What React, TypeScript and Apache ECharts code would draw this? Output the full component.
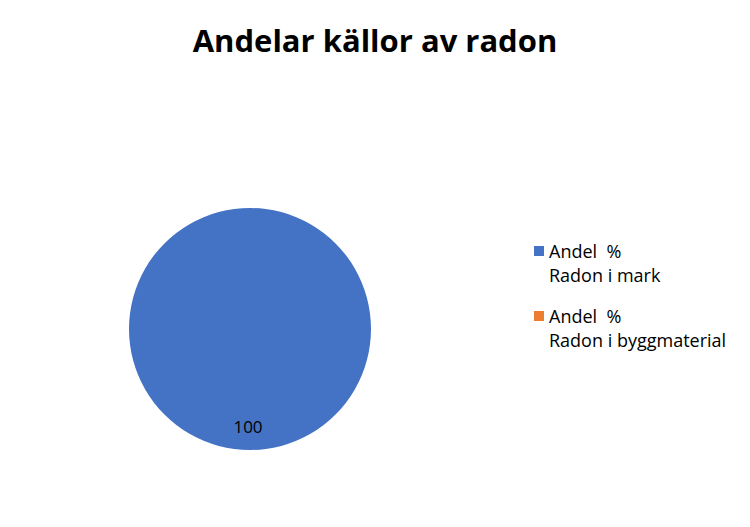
import { useEffect, useRef } from "react"
import * as echarts from "echarts"

const categories = ["Radon i mark", "Radon i byggmaterial"]
const shares = [100, 0]
const legendPrefix = "Andel  %"
const colors = ["#4472C4", "#ED7D31"]

const font = "'Segoe UI', 'Open Sans', sans-serif"

export default function App() {
  const hostRef = useRef<HTMLDivElement>(null)

  useEffect(() => {
    document.body.style.margin = "0"
    const el = hostRef.current
    if (!el) return
    const chart = echarts.init(el, undefined, { renderer: "svg" })

    chart.setOption({
      animation: false,
      backgroundColor: "#ffffff",
      color: colors,
      title: {
        text: "Andelar källor av radon",
        left: "center",
        top: 14,
        textStyle: {
          fontFamily: font,
          fontSize: 31,
          lineHeight: 42,
          fontWeight: "bold",
          color: "#000000",
        },
      },
      legend: {
        orient: "vertical",
        left: 534,
        top: 215,
        padding: 0,
        icon: "rect",
        itemWidth: 10,
        itemHeight: 10,
        itemGap: -7,
        data: categories,
        // leading empty line keeps the marker level with the first text line
        formatter: (name: string) => `\n${legendPrefix}\n${name}`,
        textStyle: {
          fontFamily: font,
          fontSize: 18,
          lineHeight: 24,
          color: "#000000",
        },
      },
      series: [
        {
          type: "pie",
          center: [250, 329],
          radius: 121,
          startAngle: 90,
          clockwise: true,
          silent: true,
          label: {
            show: true,
            position: "inside",
            formatter: "{c}",
            fontFamily: font,
            fontSize: 17,
            color: "#000000",
          },
          labelLayout: { dx: -2, dy: 34 },
          labelLine: { show: false },
          data: categories.map((name, i) => ({
            name,
            value: shares[i],
            label: shares[i] === 0 ? { show: false } : undefined,
          })),
        },
      ],
    })

    return () => chart.dispose()
  }, [])

  return <div ref={hostRef} style={{ width: 750, height: 527 }} />
}
